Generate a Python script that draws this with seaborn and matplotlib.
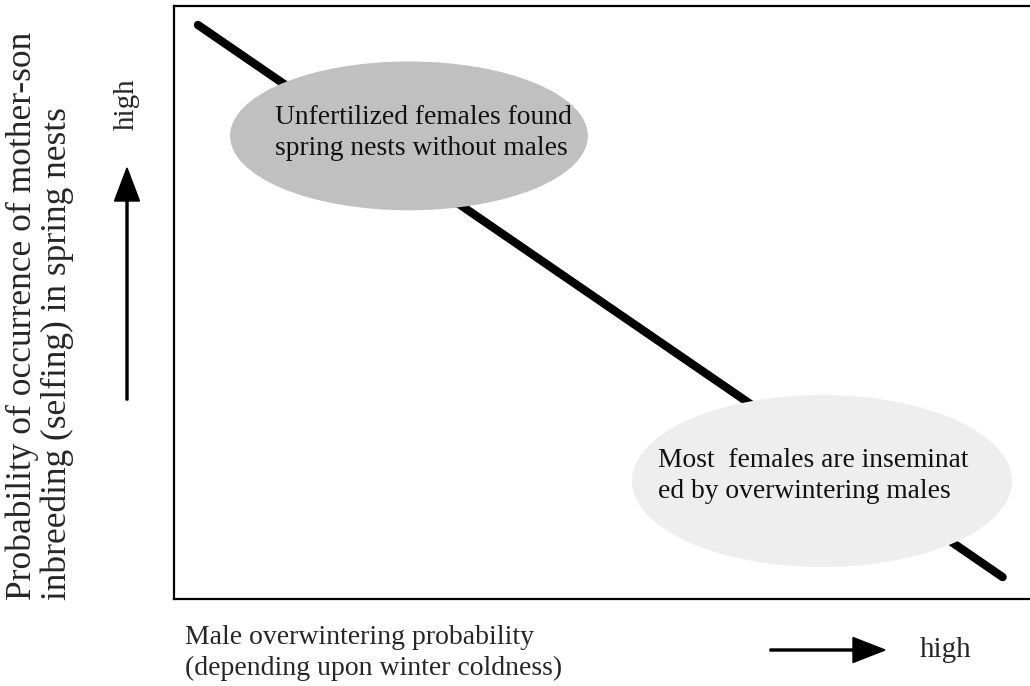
import matplotlib
matplotlib.use("Agg")
import matplotlib.pyplot as plt
from matplotlib import font_manager
from matplotlib.patches import Ellipse, FancyArrow
from matplotlib.transforms import IdentityTransform
import seaborn as sns
import pandas as pd

# ---- data (conceptual positions on 0..1 scales) ----
male_overwintering = [0.028, 0.968]
selfing_probability = [0.968, 0.037]

ellipse_centers_x = [0.2745, 0.757]
ellipse_centers_y = [0.781, 0.199]
ellipse_widths = [0.418, 0.444]
ellipse_heights = [0.251, 0.290]
ellipse_colors = ["#c0c0c0", "#eeeeee"]
ellipse_texts = ["Unfertilized females found\nspring nests without males",
                 "Most  females are inseminat\ned by overwintering males"]

ylabel_lines = ["Probability of occurrence of mother-son",
                "inbreeding (selfing) in spring nests"]
xlabel_text = "Male overwintering probability\n(depending upon winter coldness)"
high_text = "high"

sns.set_theme(style="white")
available = {f.name for f in font_manager.fontManager.ttflist}
serif_choice = None
for cand in ["Liberation Serif", "Times New Roman", "Nimbus Roman", "TeX Gyre Termes",
             "DejaVu Serif"]:
    if cand in available:
        serif_choice = cand
        break
plt.rcParams['font.family'] = [serif_choice or 'DejaVu Serif', 'DejaVu Sans']

W, H = 1030, 686
fig = plt.figure(figsize=(W / 100, H / 100), dpi=100)
ax = fig.add_axes([174 / W, (H - 599) / H, (W - 174) / W, 593 / H])
ax.set_xlim(0, 1)
ax.set_ylim(0, 1)
ax.set_xticks([])
ax.set_yticks([])
for s in ["left", "top", "bottom"]:
    ax.spines[s].set_color("black")
    ax.spines[s].set_linewidth(1.6)
    ax.spines[s].set_visible(True)
ax.spines["right"].set_visible(False)

df = pd.DataFrame({"x": male_overwintering, "y": selfing_probability})
sns.lineplot(data=df, x="x", y="y", ax=ax, color="black", linewidth=6,
             solid_capstyle="round", zorder=2)
ax.set_xlabel("")
ax.set_ylabel("")

text_x_offsets = [0.052, 0.031]
text_y_offsets = [0.005, 0.0085]
for cx, cy, w, h, c, t, dx, dy in zip(ellipse_centers_x, ellipse_centers_y, ellipse_widths,
                                     ellipse_heights, ellipse_colors, ellipse_texts,
                                     text_x_offsets, text_y_offsets):
    ax.add_patch(Ellipse((cx, cy), w, h, facecolor=c, edgecolor="none", zorder=3))
    ax.text(cx - w / 2 + dx, cy + dy, t, ha="left", va="center", fontsize=19.8,
            linespacing=1.3, zorder=4, color="#111111")

# y-axis label (two rotated lines)
fig.text(22 / W, (H - 600) / H, ylabel_lines[0], rotation=90, ha="center", va="bottom",
         fontsize=25.5)
fig.text(57 / W, (H - 600) / H, ylabel_lines[1], rotation=90, ha="center", va="bottom",
         fontsize=25.5)
fig.text(127 / W, (H - 104) / H, high_text, rotation=90, ha="center", va="center", fontsize=21)

# x label
fig.text(185 / W, (H - 653) / H, xlabel_text, ha="left", va="center", fontsize=20,
         linespacing=1.28)
fig.text(920 / W, (H - 650) / H, high_text, ha="left", va="center", fontsize=21)

# arrows (figure pixels)
fig.add_artist(FancyArrow(127, H - 400, 0, 232, width=2, head_width=25, head_length=33,
                          length_includes_head=True, color="black",
                          transform=IdentityTransform()))
fig.add_artist(FancyArrow(770, H - 650, 115, 0, width=2, head_width=25, head_length=32,
                          length_includes_head=True, color="black",
                          transform=IdentityTransform()))

fig.savefig("out.png", dpi=100)
